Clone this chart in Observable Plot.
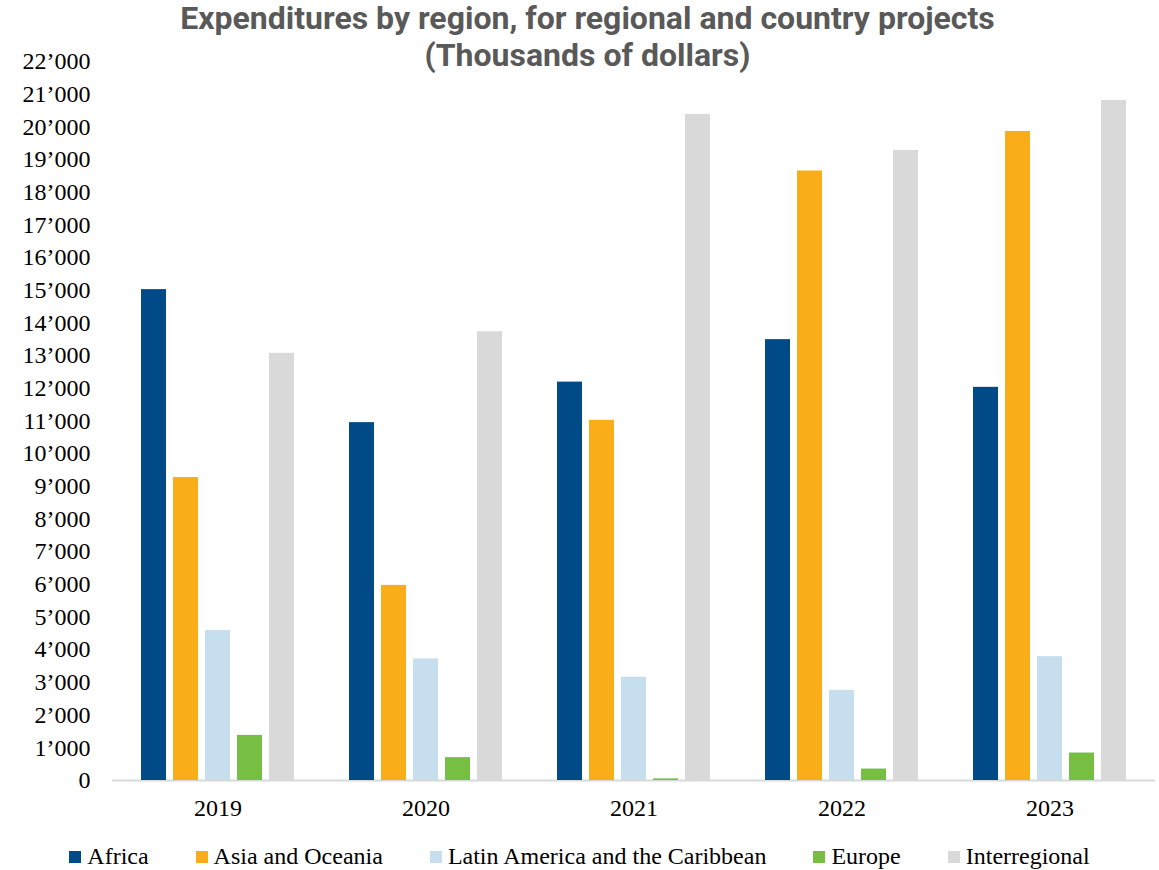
<!DOCTYPE html>
<html>
<head>
<meta charset="utf-8">
<script src="https://cdn.jsdelivr.net/npm/d3@7"></script>
<script src="https://cdn.jsdelivr.net/npm/@observablehq/plot@0.6"></script>
<style>
  html, body { margin: 0; padding: 0; background: #fff; }
  #wrap { position: relative; width: 1159px; height: 870px; }
  #title {
    position: absolute; left: 16px; top: 0; width: 1143px; text-align: center;
    font-family: Roboto, "Liberation Sans", sans-serif; font-weight: 700;
    font-size: 32px; line-height: 37px; color: #595959; z-index: 3;
  }
  #axes, #chart { position: absolute; left: 0; top: 0; }
  #chart { z-index: 2; }
  #legend {
    position: absolute; left: 0; top: 843px; width: 1159px;
    display: flex; justify-content: center; gap: 47px;
    font-family: "Liberation Serif", "Times New Roman", serif; font-size: 24px; color: #000;
    line-height: 26px;
  }
  .item { display: flex; align-items: center; white-space: nowrap; }
  .sw { width: 12px; height: 12px; margin-right: 6px; margin-top: 2px; }
</style>
</head>
<body>
<div id="wrap">
  <div id="title">Expenditures by region, for regional and country projects<br>(Thousands of dollars)</div>
  <div id="axes"></div>
  <div id="chart"></div>
  <div id="legend"></div>
</div>
<script>
const years = ["2019", "2020", "2021", "2022", "2023"];
const regions = ["Africa", "Asia and Oceania", "Latin America and the Caribbean", "Europe", "Interregional"];
const colors = ["#004a87", "#f9ae19", "#c6deee", "#76bf43", "#d9d9d9"];

const africa        = [15020, 10950, 12190, 13490, 12030];
const asiaOceania   = [9270, 5970, 11020, 18650, 19860];
const latinAmerica  = [4590, 3720, 3160, 2760, 3790];
const europe        = [1380, 700, 50, 350, 840];
const interregional = [13070, 13730, 20380, 19280, 20810];

const yTicks = d3.range(0, 22001, 1000);

const series = [africa, asiaOceania, latinAmerica, europe, interregional];
const data = [];
years.forEach((yr, i) => {
  regions.forEach((r, j) => data.push({year: yr, region: r, value: series[j][i]}));
});

const fmt = d3.formatLocale({decimal: ".", thousands: "\u2019", grouping: [3], currency: ["", ""]}).format(",d");

const common = {
  width: 1159,
  height: 820,
  marginLeft: 112,
  marginRight: 4,
  marginTop: 61,
  marginBottom: 40,
  style: {fontFamily: "'Liberation Serif', 'Times New Roman', serif", fontSize: "24px", color: "#000", background: "transparent"}
};

// Background layer: y axis labels and the baseline across the full plot width
const axes = Plot.plot({
  ...common,
  y: {domain: [0, 22000], ticks: yTicks, tickFormat: fmt, tickSize: 0, tickPadding: 22, label: null},
  marks: [
    Plot.ruleY([0], {stroke: "#d9d9d9", strokeWidth: 2})
  ]
});
document.getElementById("axes").appendChild(axes);

// Foreground layer: grouped bars
const chart = Plot.plot({
  ...common,
  fx: {domain: years, paddingInner: 0.228, paddingOuter: 0.114, label: null, axis: "bottom", tickSize: 0, tickPadding: 18},
  x: {domain: regions, paddingInner: 0.22, paddingOuter: 0.11, axis: null},
  y: {domain: [0, 22000], axis: null},
  color: {domain: regions, range: colors},
  marks: [
    Plot.barY(data, {fx: "year", x: "region", y: "value", fill: "region"})
  ]
});
document.getElementById("chart").appendChild(chart);

const legend = document.getElementById("legend");
regions.forEach((r, j) => {
  const it = document.createElement("div");
  it.className = "item";
  const sw = document.createElement("span");
  sw.className = "sw";
  sw.style.background = colors[j];
  it.appendChild(sw);
  const t = document.createElement("span");
  t.textContent = r;
  it.appendChild(t);
  legend.appendChild(it);
});
</script>
</body>
</html>
